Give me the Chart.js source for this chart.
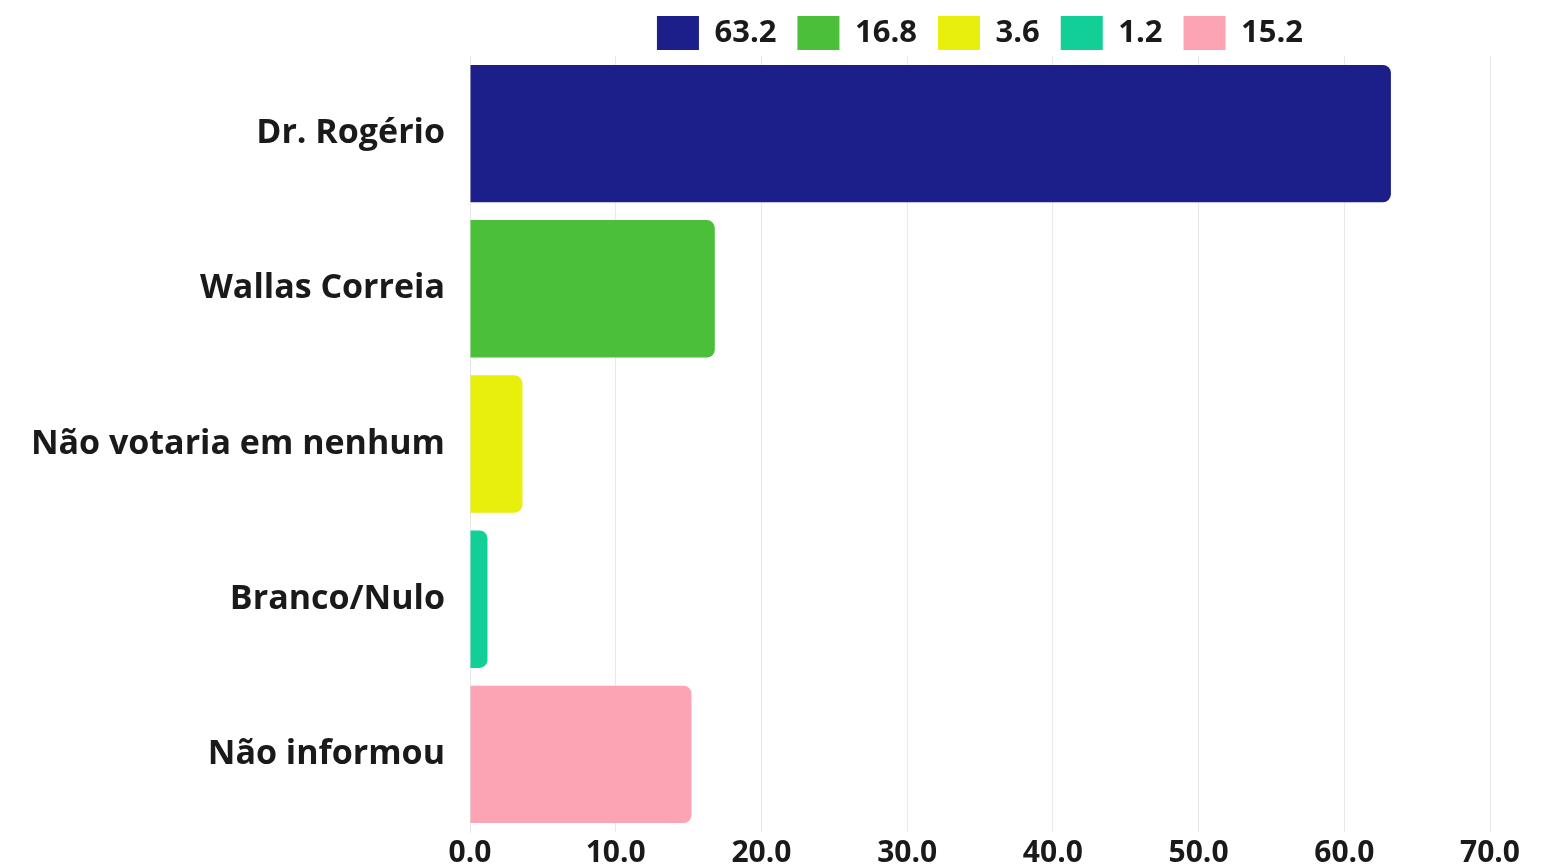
<!DOCTYPE html>
<html>
<head>
<meta charset="utf-8">
<script src="https://cdn.jsdelivr.net/npm/chart.js@4.4.1/dist/chart.umd.min.js"></script>
<style>
html,body{margin:0;padding:0;background:#fff;}
#wrap{width:1552px;height:867px;position:relative;}
</style>
</head>
<body>
<div id="wrap"><canvas id="c" width="1552" height="867"></canvas></div>
<script>
const categories = ["Dr. Rogério", "Wallas Correia", "Não votaria em nenhum", "Branco/Nulo", "Não informou"];
const values = [63.2, 16.8, 3.6, 1.2, 15.2];
const seriesLabels = ["63.2", "16.8", "3.6", "1.2", "15.2"];
const colors = ["#1c1f8a", "#4cbf3a", "#e8ef0a", "#12cf98", "#fca4b4"];
const xTicks = [0, 10, 20, 30, 40, 50, 60, 70];

const datasets = values.map((v, i) => ({
  label: seriesLabels[i],
  data: categories.map((_, j) => (j === i ? v : null)),
  backgroundColor: colors[i],
  borderColor: colors[i],
  borderWidth: 0,
  borderRadius: 8,
  borderSkipped: 'start',
  grouped: false,
  barPercentage: 0.885,
  categoryPercentage: 1
}));

Chart.defaults.font.family = "'Open Sans', sans-serif";
Chart.defaults.font.weight = 'bold';
Chart.defaults.color = '#1a1a1a';

const legendHeight = {
  id: 'legendHeight',
  beforeInit(chart) {
    const orig = chart.legend.fit;
    chart.legend.fit = function () {
      orig.call(this);
      this.height = 61;
    };
  }
};

new Chart(document.getElementById('c'), {
  type: 'bar',
  data: { labels: categories, datasets },
  plugins: [legendHeight],
  options: {
    indexAxis: 'y',
    responsive: false,
    animation: false,
    layout: { padding: { left: 0, right: 62, top: -5, bottom: -3 } },
    plugins: {
      legend: {
        position: 'top',
        fullSize: false,
        labels: {
          boxWidth: 42,
          boxHeight: 34,
          padding: 21,
          font: { size: 31, weight: 'bold' },
          color: '#1a1a1a'
        }
      },
      tooltip: { enabled: false }
    },
    scales: {
      x: {
        min: 0,
        max: 70,
        afterBuildTicks: (axis) => { axis.ticks = xTicks.map(v => ({ value: v })); },
        afterFit: (axis) => { axis.height = 38; },
        ticks: {
          font: { size: 30, weight: 'bold' },
          color: '#1a1a1a',
          padding: 3,
          maxRotation: 0,
          callback: (v) => Number(v).toFixed(1)
        },
        grid: { color: '#e8e8e8', drawTicks: false, lineWidth: 1 },
        border: { display: false }
      },
      y: {
        afterFit: (axis) => {
          axis.width = 470;
          axis.paddingTop = 0;
          axis.paddingBottom = 0;
        },
        ticks: {
          font: { size: 34, weight: 'bold' },
          color: '#1a1a1a',
          padding: 25
        },
        grid: { display: false, drawTicks: false },
        border: { display: true, color: '#e8e8e8' }
      }
    }
  }
});
</script>
</body>
</html>
